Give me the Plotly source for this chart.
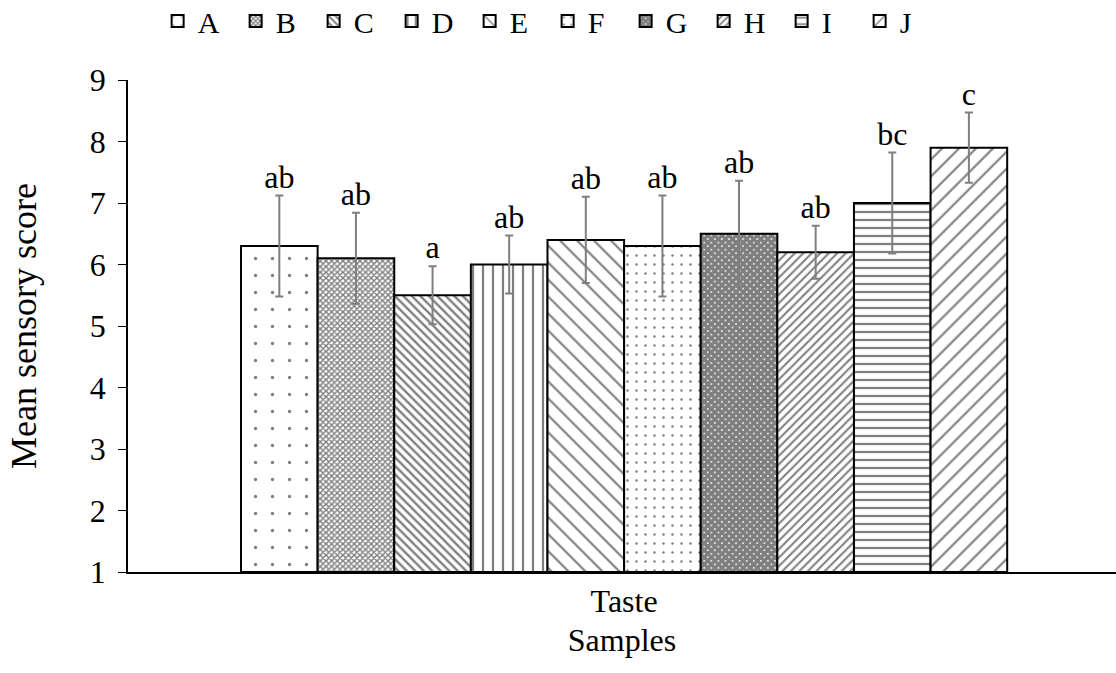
import plotly.graph_objects as go

samples = ["A", "B", "C", "D", "E", "F", "G", "H", "I", "J"]
means = [6.3, 6.1, 5.5, 6.0, 6.4, 6.3, 6.5, 6.2, 7.0, 7.9]
errors = [0.82, 0.74, 0.47, 0.47, 0.70, 0.82, 0.86, 0.43, 0.82, 0.57]
letters = ["ab", "ab", "a", "ab", "ab", "ab", "ab", "ab", "bc", "c"]
category = "Taste"

patterns = [
    dict(shape=".", size=17, solidity=0.03),
    dict(shape="x", size=4, solidity=0.6),
    dict(shape="\\", size=6, solidity=0.4),
    dict(shape="|", size=10, solidity=0.22),
    dict(shape="\\", size=12, solidity=0.18),
    dict(shape=".", size=9, solidity=0.06),
    dict(shape="x", size=5, solidity=0.9),
    dict(shape="/", size=6, solidity=0.35),
    dict(shape="-", size=8, solidity=0.28),
    dict(shape="/", size=12, solidity=0.18),
]

FONT = "Liberation Serif"
fig = go.Figure()
positions = list(range(len(samples)))
for i, s in enumerate(samples):
    p = patterns[i]
    fig.add_trace(go.Bar(
        x=[positions[i]], y=[means[i] - 1], base=1, width=1, name=s,
        marker=dict(color="white", line=dict(color="black", width=2),
                    pattern=dict(shape=p["shape"], size=p["size"], solidity=p["solidity"],
                                 fgcolor="black", bgcolor="white", fillmode="overlay")),
        error_y=dict(type="data", array=[errors[i]], color="#7f7f7f", thickness=2, width=4),
    ))

fig.add_trace(go.Scatter(
    x=positions, y=[m + e for m, e in zip(means, errors)], mode="text",
    text=letters, textposition="top center", showlegend=False,
    textfont=dict(family=FONT, size=32, color="black"), cliponaxis=False,
))

fig.update_layout(
    width=1116, height=673,
    margin=dict(l=128, r=0, t=80, b=101, autoexpand=False),
    paper_bgcolor="white", plot_bgcolor="white",
    font=dict(family=FONT, size=32, color="black"),
    barmode="overlay",
    legend=dict(orientation="h", x=0.03, y=1.12, xanchor="left", yanchor="middle",
                font=dict(family=FONT, size=30), itemwidth=30,
                entrywidth=33, entrywidthmode="pixels", tracegroupgap=0),
    xaxis=dict(range=[-1.975, 10.92], showline=True, linecolor="black", linewidth=1.5,
               tickmode="array", tickvals=[(len(samples) - 1) / 2], ticktext=[category],
               ticks="", showgrid=False, zeroline=False, tickfont=dict(size=32),
               title=dict(text="Samples", font=dict(family=FONT, size=32), standoff=10)),
    yaxis=dict(range=[1, 9], dtick=1, showline=True, linecolor="black", linewidth=1.5,
               ticks="outside", ticklen=8, tickcolor="black", showgrid=False, zeroline=False,
               tickfont=dict(size=32), ticklabelstandoff=6,
               title=dict(text="Mean sensory score", font=dict(family=FONT, size=36), standoff=42)),
)

fig.write_html("out.html")
